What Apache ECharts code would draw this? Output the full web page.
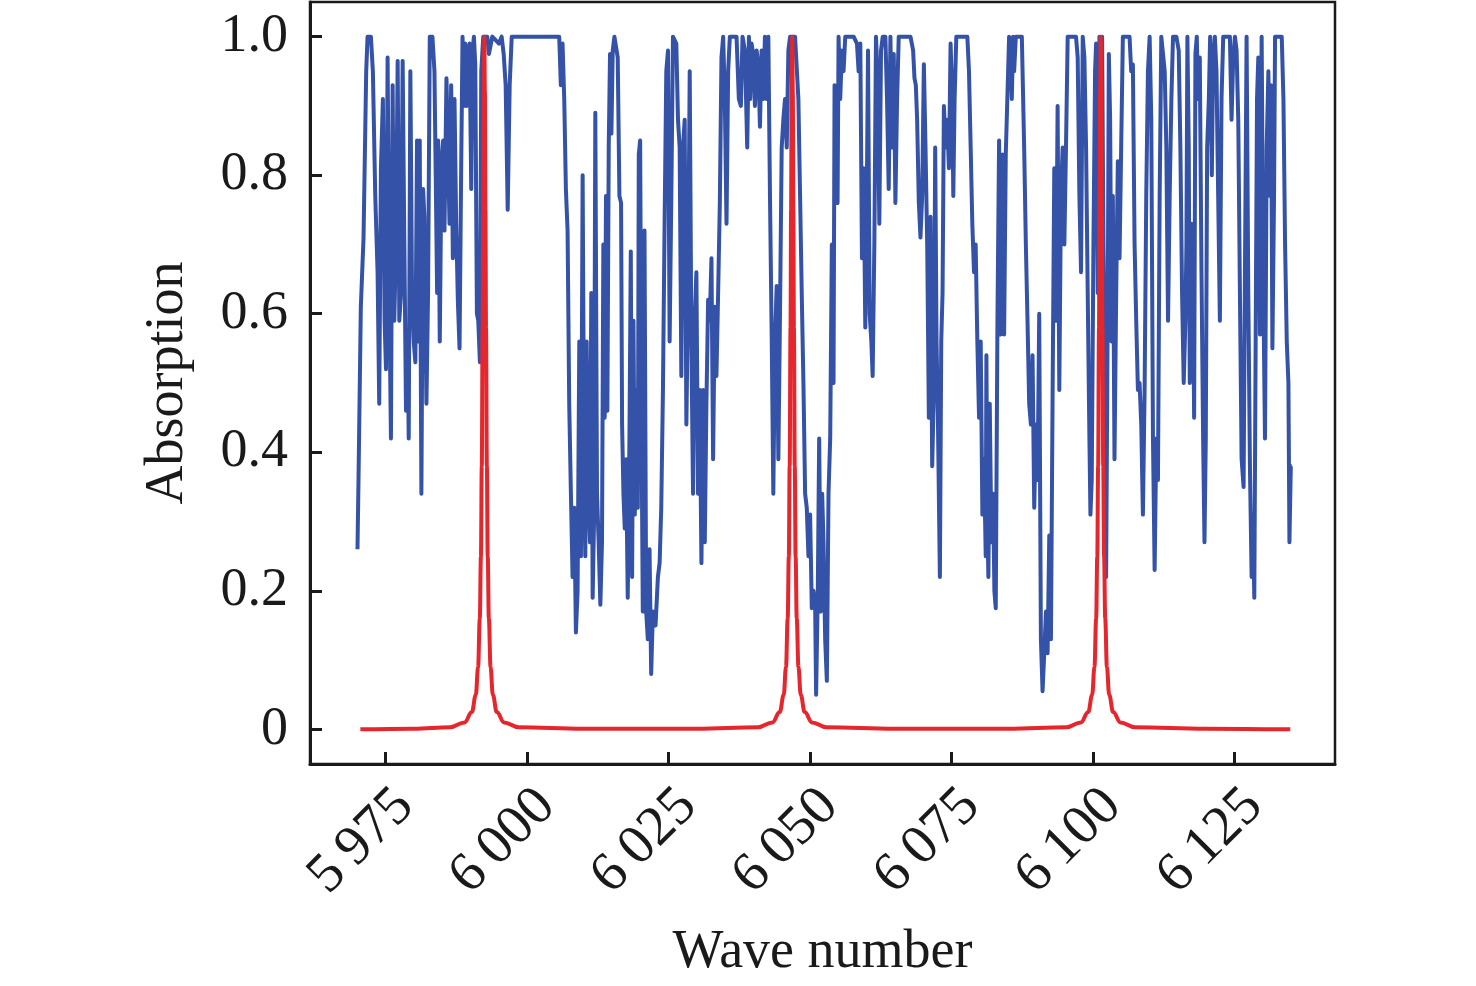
<!DOCTYPE html>
<html>
<head>
<meta charset="utf-8">
<script src="https://cdn.jsdelivr.net/npm/echarts@6/dist/echarts.min.js"></script>
<style>
  html, body { margin: 0; padding: 0; background: #fff; }
  #chart { width: 1476px; height: 986px; }
</style>
</head>
<body>
<div id="chart"></div>
<script>
// wave number ticks and absorption ticks
var xTicks = [5975, 6000, 6025, 6050, 6075, 6100, 6125];
var yTicks = [0, 0.2, 0.4, 0.6, 0.8, 1.0];

// blue curve (turning points)
var blueWave = [
    5970.09, 5970.27, 5970.68, 5971.16, 5971.63, 5971.87, 5972.46, 5972.81, 5973.23, 5973.64,
    5973.93, 5974.23, 5974.58, 5974.88, 5975.12, 5975.41, 5975.71, 5976.00, 5976.30, 5976.59,
    5976.89, 5977.19, 5977.48, 5977.78, 5978.07, 5978.37, 5978.66, 5978.96, 5979.14, 5979.43,
    5979.73, 5980.02, 5980.32, 5980.61, 5980.91, 5981.09, 5981.38, 5981.68, 5981.91, 5982.27,
    5982.56, 5982.86, 5983.33, 5983.69, 5984.16, 5984.34, 5984.63, 5984.93, 5985.22, 5985.46,
    5985.81, 5986.05, 5986.35, 5986.64, 5986.94, 5987.23, 5987.53, 5987.82, 5988.12, 5988.41,
    5988.65, 5988.89, 5989.12, 5989.36, 5989.66, 5989.89, 5990.19, 5990.42, 5990.66, 5990.90,
    5991.19, 5991.43, 5991.72, 5991.96, 5992.31, 5993.02, 5993.32, 5993.91,
    5995.09, 5995.56, 5995.92, 5996.27, 5996.63, 5996.98, 5997.34, 6005.73, 6006.02, 6006.32,
    6006.62, 6006.91, 6007.21, 6007.50, 6007.80, 6008.09, 6008.39, 6008.68, 6008.98, 6009.28,
    6009.57, 6009.87, 6010.16, 6010.34, 6010.58, 6010.87, 6011.17, 6011.40, 6011.64, 6011.88,
    6012.11, 6012.41, 6012.70, 6013.00, 6013.29, 6013.53, 6013.77, 6014.00, 6014.24, 6014.48,
    6014.71, 6014.95, 6015.19, 6015.48, 6015.78, 6016.07, 6016.37, 6016.66, 6016.84, 6017.08,
    6017.31, 6017.55, 6017.84, 6018.14, 6018.38, 6018.61, 6018.85, 6019.09, 6019.32, 6019.62,
    6019.79, 6020.03, 6020.27, 6020.50, 6020.80, 6021.10, 6021.39, 6021.69, 6021.98, 6022.28,
    6022.75,
    6023.17, 6023.47, 6023.76, 6024.06, 6024.35, 6024.65, 6024.95, 6025.24, 6025.54, 6025.83,
    6026.13, 6026.42, 6026.72, 6027.01, 6027.31, 6027.60, 6027.90, 6028.20, 6028.49, 6028.79,
    6029.08, 6029.38, 6029.67, 6029.97, 6030.26, 6030.56, 6030.86, 6031.15, 6031.45, 6031.74,
    6032.04, 6032.33, 6032.63, 6032.92, 6033.22, 6033.51, 6033.81, 6034.11, 6034.40, 6034.70,
    6034.99, 6035.29, 6035.58, 6035.88, 6036.47, 6037.06, 6037.47, 6037.83, 6038.12, 6038.54,
    6038.95, 6039.25, 6039.48, 6039.72, 6040.01, 6040.31, 6040.61, 6040.90, 6041.20, 6041.49,
    6041.79, 6042.08, 6042.38, 6042.68, 6042.97, 6043.27, 6043.56, 6043.86, 6044.15, 6044.45,
    6044.74, 6045.04, 6045.33, 6045.63, 6045.93, 6046.22, 6046.52, 6047.40, 6047.99, 6048.29,
    6048.58, 6048.88, 6049.18, 6049.47,
    6049.77, 6050.06, 6050.36, 6050.65, 6050.95, 6051.12, 6051.42, 6051.66, 6051.95, 6052.19,
    6052.43, 6052.72, 6053.02, 6053.31, 6053.61, 6053.90, 6054.20, 6054.38, 6054.67, 6054.91,
    6055.09, 6055.38, 6055.68, 6055.97, 6056.27, 6057.75, 6058.34, 6058.63, 6058.93, 6059.22,
    6059.52, 6059.81, 6060.11, 6060.29, 6060.58, 6060.88, 6061.11, 6061.41, 6061.70, 6062.00,
    6062.29, 6062.59, 6062.89, 6063.36, 6063.65, 6063.95, 6064.25, 6064.54, 6064.84, 6065.13,
    6065.43, 6065.72, 6067.79, 6068.26, 6068.50, 6068.74, 6068.97, 6069.27, 6069.56, 6069.86,
    6070.16, 6070.45, 6070.75, 6071.04, 6071.34, 6071.63, 6071.93, 6072.16, 6072.40, 6072.64,
    6072.99, 6073.23, 6073.46, 6073.70, 6074.00, 6074.29, 6074.59, 6074.88, 6075.18, 6075.36,
    6075.59, 6075.89,
    6077.84, 6078.13, 6078.43, 6078.72, 6079.02, 6079.31, 6079.61, 6079.91, 6080.20, 6080.50,
    6080.79, 6081.09, 6081.21, 6081.38, 6081.56, 6081.80, 6082.09, 6082.39, 6082.62, 6082.86,
    6083.16, 6083.45, 6083.75, 6084.04, 6084.34, 6084.63, 6084.93, 6085.22, 6085.52, 6085.70,
    6085.93, 6086.11, 6086.41, 6087.47, 6087.88, 6088.18, 6088.47, 6088.77, 6089.07, 6089.36,
    6089.66, 6089.95, 6090.25, 6090.54, 6090.84, 6091.13, 6091.43, 6091.73, 6092.02, 6092.32,
    6092.61, 6092.91, 6093.20, 6093.50, 6093.79, 6094.09, 6094.38, 6094.68, 6094.98, 6095.27,
    6095.57, 6097.04, 6097.34, 6097.64, 6097.93, 6098.23, 6098.52, 6098.82, 6099.11, 6099.41,
    6099.59, 6099.82, 6100.12, 6100.41, 6100.59, 6100.89, 6101.18, 6101.36, 6101.65, 6101.89,
    6102.13, 6102.36, 6102.66, 6102.84, 6103.07, 6103.31, 6103.55, 6103.84, 6104.14, 6104.43,
    6104.73, 6105.02, 6105.32, 6106.50, 6106.79, 6107.09, 6107.39, 6107.68, 6107.98, 6108.27,
    6108.57, 6108.86, 6109.16, 6109.45, 6109.75, 6110.05, 6110.34, 6110.64, 6110.93, 6111.23,
    6111.52, 6111.82, 6112.11, 6112.41, 6112.71, 6113.00, 6113.30, 6113.59, 6113.89, 6114.18,
    6114.77, 6115.19, 6115.48, 6115.78, 6116.07, 6116.37, 6116.55, 6116.72, 6116.96, 6117.14,
    6117.43, 6117.73, 6117.91, 6118.14, 6118.38, 6118.61, 6118.91, 6119.21, 6119.50, 6119.74,
    6119.97, 6120.21, 6120.51, 6120.74, 6121.04, 6121.27, 6121.57, 6121.86, 6122.16, 6122.46,
    6122.75, 6123.05, 6124.23, 6124.52, 6124.82, 6125.12, 6125.41, 6125.71, 6126.00, 6126.30,
    6126.65, 6126.89, 6127.18, 6127.48, 6127.77, 6128.07, 6128.31, 6128.54, 6128.78, 6129.02,
    6129.25, 6129.55, 6129.84, 6130.14, 6130.43, 6130.73, 6131.03, 6131.32, 6131.50, 6131.74,
    6132.03, 6132.21, 6133.39, 6133.69, 6133.98, 6134.28, 6134.57, 6134.75, 6134.99, 6135.17
];
var blueAbs = [
    0.26, 0.36, 0.61, 0.71, 0.95, 1.00, 1.00, 0.95, 0.77, 0.66,
    0.47, 0.81, 0.91, 0.59, 0.52, 0.97, 0.63, 0.42, 0.93, 0.59,
    0.70, 0.965, 0.59, 0.63, 0.965, 0.70, 0.46, 0.56, 0.42, 0.95,
    0.63, 0.56, 0.53, 0.85, 0.56, 0.85, 0.34, 0.78, 0.74, 0.47,
    0.63, 1.00, 1.00, 0.95, 0.63, 0.85, 0.56, 0.82, 0.85, 0.72,
    0.94, 0.94, 0.73, 0.93, 0.68, 0.91, 0.73, 0.62, 0.55, 0.81,
    1.00, 0.90, 0.99, 0.90, 0.98, 0.99, 0.78, 0.98, 1.00, 0.96,
    0.60, 0.59, 0.53, 0.95, 1.00, 1.00, 0.975, 1.00,
    0.99, 1.00, 0.975, 0.93, 0.75, 0.93, 1.00, 1.00, 0.93, 0.99,
    0.91, 0.78, 0.72, 0.47, 0.34, 0.22, 0.32, 0.14, 0.20, 0.56,
    0.25, 0.80, 0.34, 0.25, 0.56, 0.34, 0.27, 0.63, 0.19, 0.30,
    0.89, 0.34, 0.27, 0.18, 0.27, 0.70, 0.45, 0.77, 0.46, 0.84,
    0.975, 0.86, 0.98, 1.00, 1.00, 0.97, 0.77, 0.76, 0.44, 0.34,
    0.29, 0.39, 0.19, 0.42, 0.69, 0.22, 0.59, 0.31, 0.49, 0.32,
    0.83, 0.85, 0.44, 0.17, 0.72, 0.17, 0.13, 0.26, 0.08, 0.17,
    0.15,
    0.22, 0.24, 0.32, 0.49, 0.73, 0.95, 0.98, 0.56, 0.77, 1.00,
    1.00, 0.99, 0.88, 0.84, 0.51, 0.84, 0.88, 0.44, 0.63, 0.95,
    0.56, 0.34, 0.59, 0.66, 0.34, 0.49, 0.24, 0.49, 0.27, 0.47,
    0.62, 0.59, 0.68, 0.39, 0.61, 0.51, 0.63, 0.76, 0.97, 1.00,
    0.91, 0.73, 0.95, 1.00, 1.00, 1.00, 0.91, 0.90, 1.00, 0.98,
    0.84, 1.00, 0.91, 0.99, 0.975, 0.90, 0.98, 0.96, 0.87, 0.98,
    0.91, 1.00, 0.91, 1.00, 0.77, 0.57, 0.34, 0.56, 0.64, 0.39,
    0.60, 0.84, 0.88, 0.91, 0.84, 0.98, 1.00, 1.00, 0.91, 0.77,
    0.63, 0.50, 0.34, 0.32,
    0.25, 0.31, 0.175, 0.20, 0.18, 0.05, 0.20, 0.42, 0.17, 0.34,
    0.27, 0.13, 0.07, 0.34, 0.42, 0.70, 0.50, 0.93, 0.93, 0.76,
    1.00, 0.91, 0.98, 0.95, 1.00, 1.00, 0.99, 0.95, 0.99, 0.68,
    0.81, 0.58, 0.80, 0.98, 0.60, 0.56, 0.51, 0.70, 1.00, 0.94,
    0.73, 0.98, 1.00, 1.00, 0.91, 0.78, 1.00, 0.84, 0.975, 0.76,
    0.91, 1.00, 1.00, 0.98, 0.94, 0.93, 0.88, 0.76, 0.71, 0.77,
    0.96, 0.84, 0.70, 0.45, 0.74, 0.38, 0.49, 0.84, 0.56, 0.45,
    0.22, 0.56, 0.63, 0.90, 0.84, 0.88, 0.81, 0.99, 0.91, 0.77,
    0.91, 1.00,
    1.00, 0.95, 0.84, 0.73, 0.66, 0.70, 0.56, 0.45, 0.56, 0.31,
    0.39, 0.25, 0.54, 0.30, 0.22, 0.47, 0.27, 0.34, 0.20, 0.175,
    0.59, 0.85, 0.57, 0.83, 0.57, 0.83, 0.83, 1.00, 0.98, 0.91,
    1.00, 0.95, 1.00, 1.00, 0.84, 0.70, 0.59, 0.47, 0.44, 0.54,
    0.32, 0.44, 0.36, 0.60, 0.13, 0.055, 0.11, 0.17, 0.11, 0.28,
    0.13, 0.49, 0.81, 0.59, 0.90, 0.49, 0.77, 0.84, 0.70, 0.84,
    1.00, 1.00, 0.97, 0.77, 0.66, 1.00, 0.97, 0.84, 0.63, 0.42,
    0.31, 0.36, 0.70, 0.95, 0.99, 0.63, 1.00, 0.97, 1.00, 0.70,
    0.56, 0.22, 0.63, 0.975, 0.88, 0.56, 0.77, 0.39, 0.63, 0.82,
    0.68, 0.84, 1.00, 1.00, 0.95, 0.96, 0.70, 0.59, 0.49, 0.50,
    0.44, 0.31, 0.49, 0.77, 0.95, 1.00, 0.88, 0.42, 0.23, 0.42,
    0.36, 0.77, 1.00, 1.00, 0.95, 0.84, 0.59, 0.77, 0.91, 1.00,
    1.00, 0.98, 0.84, 0.63, 0.50, 0.59, 0.70, 1.00, 0.84, 0.50,
    0.73, 0.63, 0.45, 0.975, 1.00, 0.91, 0.97, 0.66, 0.42, 0.27,
    0.42, 0.84, 0.91, 1.00, 0.80, 0.97, 1.00, 0.95, 0.77, 0.59,
    0.91, 1.00, 1.00, 0.88, 0.97, 1.00, 0.98, 0.88, 0.63, 0.39,
    0.35, 0.66, 1.00, 0.63, 0.38, 0.22, 0.31, 0.19, 0.56, 0.91,
    0.97, 0.57, 1.00, 0.63, 0.42, 0.84, 0.95, 0.77, 0.93, 0.55,
    0.77, 1.00, 1.00, 0.91, 0.70, 0.56, 0.50, 0.27, 0.38, 0.38
];

// red curve (three narrow peaks)
var redWave = [
    5970.6, 5980.0, 5986.5, 5989.0, 5990.3, 5991.0, 5991.4, 5991.7, 5991.9, 5992.05,
    5992.2, 5992.3, 5992.4, 5992.5, 5992.6, 5992.7, 5992.8, 5992.95, 5993.1, 5993.3,
    5993.6, 5994.0, 5994.7, 5996.0, 5998.5, 6010.0, 6030.0,
    6040.9, 6043.4, 6044.7, 6045.4, 6045.8, 6046.1, 6046.3, 6046.45, 6046.6, 6046.7,
    6046.8, 6046.9, 6047.0, 6047.1, 6047.2, 6047.35, 6047.5, 6047.7, 6048.0, 6048.4,
    6049.1, 6050.4, 6052.9, 6065.0, 6085.0,
    6095.4, 6097.9, 6099.2, 6099.9, 6100.3, 6100.6, 6100.8, 6100.95, 6101.1, 6101.2,
    6101.3, 6101.4, 6101.5, 6101.6, 6101.7, 6101.85, 6102.0, 6102.2, 6102.5, 6102.9,
    6103.6, 6104.9, 6107.4, 6120.0, 6134.9
];
var redAbs = [
    0.000, 0.001, 0.003, 0.010, 0.025, 0.050, 0.090, 0.160, 0.250, 0.380,
    0.580, 0.750, 0.920, 1.000, 0.920, 0.750, 0.580, 0.380, 0.250, 0.160,
    0.090, 0.050, 0.025, 0.010, 0.003, 0.001, 0.001,
    0.003, 0.010, 0.025, 0.050, 0.090, 0.160, 0.250, 0.380, 0.580, 0.750,
    0.920, 1.000, 0.920, 0.750, 0.580, 0.380, 0.250, 0.160, 0.090, 0.050,
    0.025, 0.010, 0.003, 0.001, 0.001,
    0.003, 0.010, 0.025, 0.050, 0.090, 0.160, 0.250, 0.380, 0.580, 0.750,
    0.920, 1.000, 0.920, 0.750, 0.580, 0.380, 0.250, 0.160, 0.090, 0.050,
    0.025, 0.010, 0.003, 0.001, 0.000
];

function zip(xs, ys) {
    var out = [];
    for (var i = 0; i < xs.length; i++) out.push([xs[i], ys[i]]);
    return out;
}

var font = 'Liberation Serif, Times New Roman, serif';
var ink = '#1a1a1a';

var chart = echarts.init(document.getElementById('chart'), null, { renderer: 'canvas' });

chart.setOption({
    animation: false,
    backgroundColor: '#fff',
    grid: {
        left: 310, right: 141, top: 2, bottom: 222,
        show: true, borderColor: ink, borderWidth: 2.5
    },
    xAxis: {
        type: 'value',
        min: 5961.7,
        max: 6142.8,
        name: 'Wave number',
        nameLocation: 'middle',
        nameGap: 162,
        nameTextStyle: { fontFamily: font, fontSize: 54, color: ink },
        axisLine: { show: true, onZero: false, lineStyle: { color: ink, width: 3 } },
        axisTick: { show: true, inside: true, length: 12, lineStyle: { color: ink, width: 3 }, customValues: xTicks },
        axisLabel: {
            customValues: xTicks,
            rotate: 45,
            margin: 14,
            verticalAlign: 'top',
            fontFamily: font, fontSize: 56, color: ink,
            formatter: function (v) {
                var s = String(v);
                return s.charAt(0) + '\u2009' + s.slice(1);
            }
        },
        splitLine: { show: false }
    },
    yAxis: {
        type: 'value',
        min: -0.05,
        max: 1.05,
        name: 'Absorption',
        nameLocation: 'middle',
        nameGap: 115,
        nameTextStyle: { fontFamily: font, fontSize: 54, color: ink },
        axisLine: { show: true, onZero: false, lineStyle: { color: ink, width: 3 } },
        axisTick: { show: true, inside: true, length: 12, lineStyle: { color: ink, width: 3 }, customValues: yTicks },
        axisLabel: {
            customValues: yTicks,
            margin: 22,
            fontFamily: font, fontSize: 54, color: ink,
            formatter: function (v) { return v === 0 ? '0' : v.toFixed(1); }
        },
        splitLine: { show: false }
    },
    series: [
        {
            name: 'absorption',
            type: 'line',
            data: zip(blueWave, blueAbs),
            showSymbol: false,
            lineStyle: { color: '#3452a8', width: 4, join: 'round' },
            z: 2
        },
        {
            name: 'filter',
            type: 'line',
            data: zip(redWave, redAbs),
            showSymbol: false,
            smooth: 0.4,
            smoothMonotone: 'x',
            lineStyle: { color: '#e6262d', width: 4, join: 'round' },
            z: 3
        }
    ]
});
</script>
</body>
</html>
